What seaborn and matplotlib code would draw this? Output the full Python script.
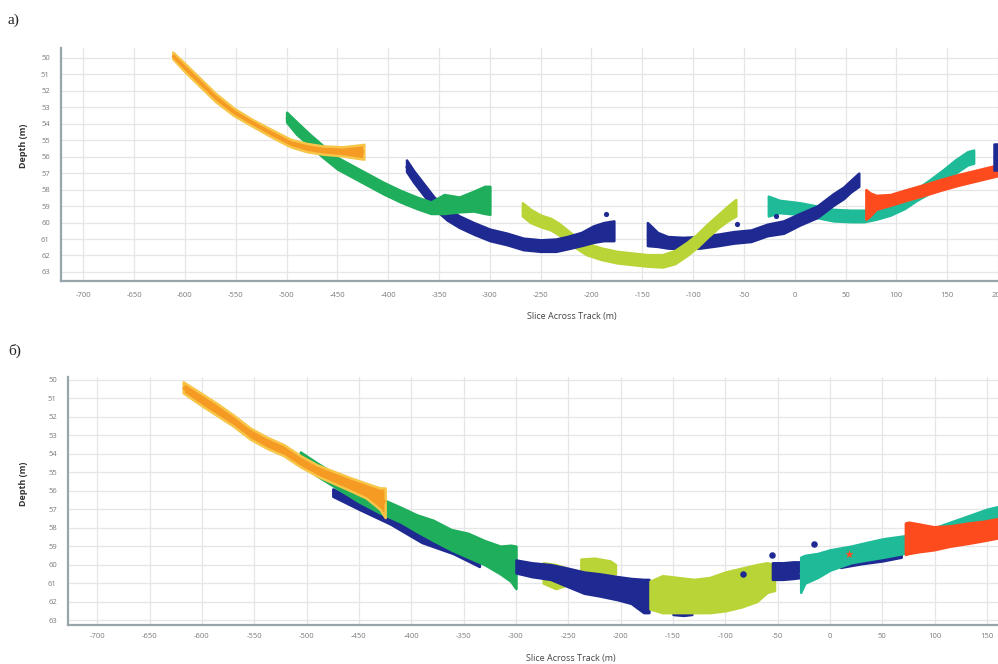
import matplotlib
matplotlib.use("Agg")
import matplotlib.pyplot as plt
import seaborn as sns
import numpy as np

# ---------------- data: panel a) ----------------
A_ORANGE_X = [-612, -600, -585, -570, -552, -535, -515, -496, -480, -464, -445, -430, -424]
A_ORANGE_UP = [49.65, 50.35, 51.25, 52.15, 53.05, 53.7, 54.35, 54.95, 55.2, 55.35, 55.4, 55.3, 55.25]
A_ORANGE_LO = [50.05, 50.85, 51.75, 52.65, 53.5, 54.1, 54.8, 55.4, 55.7, 55.85, 55.95, 56.1, 56.15]

A_GREEN_X = [-500, -490, -477, -463, -450, -435, -420, -405, -388, -372, -358, -345, -330, -316, -305, -300]
A_GREEN_UP = [53.3, 53.9, 54.65, 55.4, 56.05, 56.55, 57.05, 57.55, 58.05, 58.45, 58.75, 58.3, 58.45, 58.1, 57.8, 57.8]
A_GREEN_LO = [53.9, 54.65, 55.35, 56.1, 56.75, 57.25, 57.75, 58.25, 58.75, 59.15, 59.45, 59.45, 59.35, 59.3, 59.45, 59.5]

A_BLUE1_X = [-382, -375, -365, -355, -342, -330, -316, -300, -283, -267, -250, -235, -224, -210, -198, -188, -178]
A_BLUE1_UP = [56.2, 56.85, 57.65, 58.45, 59.15, 59.6, 60.0, 60.4, 60.65, 60.95, 61.05, 61.0, 60.85, 60.6, 60.2, 60.0, 59.9]
A_BLUE1_LO = [56.9, 57.55, 58.35, 59.15, 59.85, 60.3, 60.7, 61.1, 61.35, 61.65, 61.75, 61.75, 61.6, 61.4, 61.2, 61.1, 61.1]

A_YELLOW_X = [-268, -260, -250, -240, -232, -220, -205, -190, -175, -160, -145, -130, -118, -106, -96, -86, -75, -65, -58]
A_YELLOW_UP = [58.8, 59.2, 59.55, 59.75, 60.05, 60.65, 61.25, 61.55, 61.75, 61.85, 61.95, 61.95, 61.7, 61.2, 60.7, 60.1, 59.5, 58.95, 58.6]
A_YELLOW_LO = [59.6, 60.0, 60.25, 60.45, 60.75, 61.35, 61.95, 62.25, 62.45, 62.55, 62.65, 62.7, 62.5, 62.0, 61.5, 60.9, 60.3, 59.85, 59.6]

A_BLUE2_X = [-145, -135, -125, -110, -93, -75, -60, -43, -27, -11, 5, 22, 38, 48, 55, 63]
A_BLUE2_UP = [60.0, 60.6, 60.85, 60.9, 60.85, 60.7, 60.55, 60.45, 60.1, 59.9, 59.45, 59.0, 58.25, 57.85, 57.45, 57.0]
A_BLUE2_LO = [61.4, 61.45, 61.55, 61.6, 61.55, 61.4, 61.25, 61.15, 60.8, 60.65, 60.15, 59.7, 58.95, 58.55, 58.15, 57.8]

A_TEAL_X = [-26, -15, 5, 22, 38, 55, 68, 80, 94, 108, 120, 133, 146, 158, 170, 176]
A_TEAL_UP = [58.4, 58.65, 58.8, 59.0, 59.2, 59.25, 59.25, 59.1, 58.85, 58.45, 57.95, 57.4, 56.8, 56.2, 55.7, 55.6]
A_TEAL_LO = [59.6, 59.4, 59.5, 59.7, 59.9, 59.95, 59.95, 59.8, 59.55, 59.15, 58.65, 58.2, 57.6, 57.0, 56.5, 56.4]

A_RED_X = [70, 74, 80, 94, 110, 127, 143, 160, 180, 200]
A_RED_UP = [58.0, 58.2, 58.35, 58.3, 58.0, 57.7, 57.4, 57.1, 56.8, 56.5]
A_RED_LO = [59.8, 59.6, 59.2, 58.95, 58.65, 58.35, 58.05, 57.75, 57.45, 57.15]

A_BLUE3_X = [196, 200]
A_BLUE3_UP = [55.2, 55.2]
A_BLUE3_LO = [56.8, 56.8]

A_DOT_X = [-186, -57, -18]
A_DOT_Y = [59.5, 60.1, 59.6]

# ---------------- data: panel б) ----------------
B_ORANGE_X = [-618, -600, -585, -570, -554, -538, -522, -506, -490, -474, -458, -443, -430, -425]
B_ORANGE_UP = [50.1, 50.75, 51.3, 51.9, 52.6, 53.1, 53.5, 54.1, 54.6, 54.95, 55.3, 55.6, 55.85, 55.85]
B_ORANGE_LO = [50.7, 51.4, 51.95, 52.5, 53.2, 53.7, 54.1, 54.7, 55.2, 55.6, 56.0, 56.4, 57.0, 57.45]

B_GREEN_X = [-506, -490, -470, -450, -430, -410, -395, -379, -362, -346, -330, -315, -305, -300]
B_GREEN_UP = [53.9, 54.5, 55.2, 55.8, 56.4, 56.9, 57.3, 57.6, 58.1, 58.3, 58.7, 59.0, 58.95, 59.0]
B_GREEN_LO = [54.5, 55.2, 55.9, 56.6, 57.2, 57.7, 58.2, 58.7, 59.2, 59.6, 60.0, 60.5, 60.9, 61.3]

B_BLUE1_X = [-475, -450, -420, -390, -360, -335]
B_BLUE1_UP = [55.9, 56.6, 57.3, 58.1, 58.8, 59.5]
B_BLUE1_LO = [56.3, 57.0, 57.8, 58.8, 59.4, 60.1]

B_YELLOW1_X = [-274, -262, -251]
B_YELLOW1_UP = [59.9, 60.0, 60.2]
B_YELLOW1_LO = [61.0, 61.3, 61.1]

B_YELLOW2_X = [-238, -225, -210, -205]
B_YELLOW2_UP = [59.7, 59.65, 59.8, 60.0]
B_YELLOW2_LO = [60.5, 60.5, 60.5, 60.5]

B_BLUE2_X = [-300, -285, -267, -250, -235, -220, -203, -190, -178, -173]
B_BLUE2_UP = [59.75, 59.9, 60.0, 60.2, 60.4, 60.5, 60.65, 60.75, 60.8, 60.8]
B_BLUE2_LO = [60.45, 60.65, 60.8, 61.2, 61.55, 61.7, 61.9, 62.1, 62.6, 62.6]

B_BLUE_SM_X = [-150, -140, -132]
B_BLUE_SM_UP = [62.2, 62.3, 62.3]
B_BLUE_SM_LO = [62.7, 62.75, 62.7]

B_YELLOW3_X = [-172, -160, -145, -130, -115, -100, -85, -70, -60, -53]
B_YELLOW3_UP = [60.9, 60.6, 60.7, 60.8, 60.7, 60.4, 60.2, 60.0, 59.9, 60.0]
B_YELLOW3_LO = [62.4, 62.6, 62.6, 62.6, 62.6, 62.5, 62.3, 62.0, 61.5, 61.4]

B_BLUE3_X = [-55, -45, -35, -28]
B_BLUE3_UP = [59.9, 59.9, 59.85, 59.85]
B_BLUE3_LO = [60.8, 60.8, 60.75, 60.7]

B_BLUE4_X = [10, 30, 50, 68]
B_BLUE4_UP = [59.7, 59.55, 59.35, 59.15]
B_BLUE4_LO = [60.15, 59.95, 59.8, 59.6]

B_TEAL_X = [-28, -24, -12, 0, 20, 35, 51, 70, 90, 110, 130, 150, 161]
B_TEAL_UP = [59.6, 59.5, 59.4, 59.2, 59.0, 58.8, 58.6, 58.45, 58.2, 57.8, 57.4, 57.0, 56.85]
B_TEAL_LO = [61.5, 61.0, 60.7, 60.3, 59.9, 59.75, 59.6, 59.4, 59.1, 58.7, 58.3, 58.0, 57.8]

B_RED_X = [72, 75, 85, 99, 115, 132, 147, 161]
B_RED_UP = [57.75, 57.7, 57.8, 57.95, 57.9, 57.75, 57.65, 57.5]
B_RED_LO = [59.45, 59.4, 59.3, 59.2, 59.0, 58.85, 58.7, 58.55]

B_DOT_X = [-55, -15.5, -83]
B_DOT_Y = [59.5, 58.9, 60.5]
B_STAR_X = [18]
B_STAR_Y = [59.4]

X_TICKS = list(range(-700, 201, 50))
Y_TICKS = list(range(50, 64))

C_ORANGE = "#f59a23"
C_ORANGE_EDGE = "#f7c548"
C_GREEN = "#1fae5c"
C_BLUE = "#1e2a92"
C_YELLOW = "#b8d436"
C_TEAL = "#1fbb98"
C_RED = "#fd4b1e"

sns.set_style("white")
plt.rcParams["font.family"] = ["Open Sans", "DejaVu Sans"]
plt.rcParams["axes.unicode_minus"] = False

fig = plt.figure(figsize=(9.98, 6.64), dpi=100)
ax_a = fig.add_axes([61 / 998, 1 - 281 / 664, (998 - 61) / 998, (281 - 48) / 664])
ax_b = fig.add_axes([68 / 998, 1 - 625 / 664, (998 - 68) / 998, (625 - 377) / 664])


def band(ax, x, up, lo, color, edge=None, lw=1.8):
    mid = [(u + l) / 2 for u, l in zip(up, lo)]
    ax.fill_between(x, up, lo, color=color, edgecolor=edge or color,
                    linewidth=lw, joinstyle="round", zorder=3)
    sns.lineplot(x=x, y=mid, color=color, linewidth=2.5, ax=ax,
                 estimator=None, sort=False, zorder=3,
                 solid_capstyle="butt")


# panel a
band(ax_a, A_TEAL_X, A_TEAL_UP, A_TEAL_LO, C_TEAL)
band(ax_a, A_RED_X, A_RED_UP, A_RED_LO, C_RED)
band(ax_a, A_BLUE2_X, A_BLUE2_UP, A_BLUE2_LO, C_BLUE)
band(ax_a, A_YELLOW_X, A_YELLOW_UP, A_YELLOW_LO, C_YELLOW)
band(ax_a, A_BLUE1_X, A_BLUE1_UP, A_BLUE1_LO, C_BLUE)
band(ax_a, A_GREEN_X, A_GREEN_UP, A_GREEN_LO, C_GREEN)
band(ax_a, A_ORANGE_X, A_ORANGE_UP, A_ORANGE_LO, C_ORANGE, edge=C_ORANGE_EDGE)
band(ax_a, A_BLUE3_X, A_BLUE3_UP, A_BLUE3_LO, C_BLUE)
sns.scatterplot(x=A_DOT_X, y=A_DOT_Y, color=C_BLUE, s=14, ax=ax_a, zorder=4, linewidth=0)

# panel b
band(ax_b, B_BLUE1_X, B_BLUE1_UP, B_BLUE1_LO, C_BLUE)
band(ax_b, B_GREEN_X, B_GREEN_UP, B_GREEN_LO, C_GREEN)
band(ax_b, B_ORANGE_X, B_ORANGE_UP, B_ORANGE_LO, C_ORANGE, edge=C_ORANGE_EDGE)
band(ax_b, B_YELLOW1_X, B_YELLOW1_UP, B_YELLOW1_LO, C_YELLOW)
band(ax_b, B_YELLOW2_X, B_YELLOW2_UP, B_YELLOW2_LO, C_YELLOW)
band(ax_b, B_BLUE2_X, B_BLUE2_UP, B_BLUE2_LO, C_BLUE)
band(ax_b, B_BLUE_SM_X, B_BLUE_SM_UP, B_BLUE_SM_LO, C_BLUE)
band(ax_b, B_YELLOW3_X, B_YELLOW3_UP, B_YELLOW3_LO, C_YELLOW)
band(ax_b, B_BLUE3_X, B_BLUE3_UP, B_BLUE3_LO, C_BLUE)
band(ax_b, B_BLUE4_X, B_BLUE4_UP, B_BLUE4_LO, C_BLUE)
band(ax_b, B_TEAL_X, B_TEAL_UP, B_TEAL_LO, C_TEAL)
band(ax_b, B_RED_X, B_RED_UP, B_RED_LO, C_RED)
sns.scatterplot(x=B_DOT_X, y=B_DOT_Y, color=C_BLUE, s=22, ax=ax_b, zorder=4, linewidth=0)
sns.scatterplot(x=B_STAR_X, y=B_STAR_Y, color=C_RED, marker="*", s=40, ax=ax_b, zorder=4, linewidth=0)

for ax, xlim, ylim, ypad, xpad, xl_pos, yl_pos in (
        (ax_a, (-722, 200), (63.55, 49.4), 8, 8, (0.545, -0.135), (-0.035, 0.58)),
        (ax_b, (-728, 160.5), (63.27, 49.84), 8, 6, (0.541, -0.115), (-0.043, 0.569))):
    xt = [t for t in X_TICKS if xlim[0] <= t <= xlim[1]]
    ax.set_xticks(xt)
    ax.set_yticks(Y_TICKS)
    ax.set_xticklabels([str(t) for t in xt])
    ax.set_yticklabels([str(t) for t in Y_TICKS])
    ax.set_xlim(*xlim)
    ax.set_ylim(*ylim)
    ax.grid(True, color="#e6e6e6", linewidth=0.9, zorder=0)
    ax.set_axisbelow(True)
    ax.tick_params(axis="both", length=0, labelsize=5.5, labelcolor="#7a7a7a")
    ax.tick_params(axis="y", pad=ypad)
    ax.tick_params(axis="x", pad=xpad)
    for s in ("top", "right"):
        ax.spines[s].set_visible(False)
    for s in ("left", "bottom"):
        ax.spines[s].set_color("#98a6ab")
        ax.spines[s].set_linewidth(1.6)
    ax.set_xlabel("Slice Across Track (m)", fontsize=6.5, color="#444444")
    ax.set_ylabel("Depth (m)", fontsize=6.5, color="#333333", fontweight="bold")
    ax.xaxis.set_label_coords(*xl_pos)
    ax.yaxis.set_label_coords(*yl_pos)
    if ax.get_legend():
        ax.get_legend().remove()

fig.text(8 / 998, 1 - 20 / 664, "a)", fontsize=11, family=["Liberation Serif", "DejaVu Serif"],
         va="center", ha="left", color="#222222")
fig.text(8 / 998, 1 - 351 / 664, "б)", fontsize=11, family=["Liberation Serif", "DejaVu Serif"],
         va="center", ha="left", color="#222222")

fig.savefig("out.png", dpi=100)
